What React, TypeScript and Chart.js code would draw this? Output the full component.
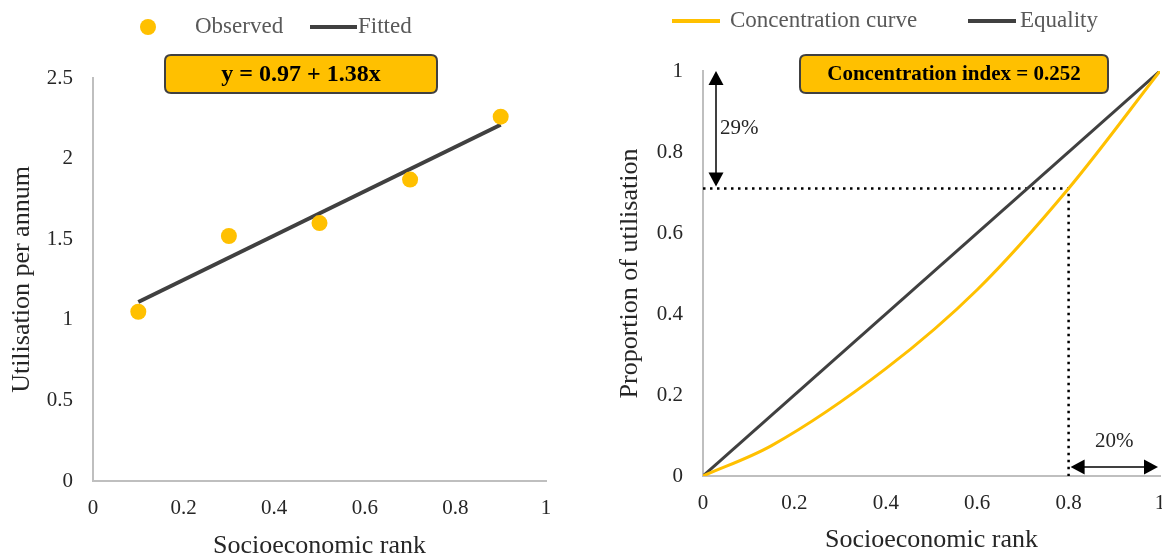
import React, { useEffect, useRef } from "react";
import { Chart, registerables } from "chart.js";

Chart.register(...registerables);

// ---------- Left panel data ----------
const RANK_OBS = [0.1, 0.3, 0.5, 0.7, 0.9];
const UTIL_OBS = [1.05, 1.52, 1.6, 1.87, 2.26];
const FIT_RANK = [0.1, 0.9];
const FIT_UTIL = [1.11, 2.21];
const EQUATION = "y = 0.97 + 1.38x";
const LEFT_SERIES = ["Observed", "Fitted"];

// ---------- Right panel data ----------
const CC_RANK = [0, 0.15, 0.4, 0.6, 0.8, 1];
const CC_SHARE = [0, 0.075, 0.265, 0.46, 0.71, 1];
const EQ_RANK = [0, 1];
const EQ_SHARE = [0, 1];
const GAP_RANK = 0.8;
const GAP_SHARE = 0.71;
const CI_LABEL = "Concentration index = 0.252";
const TOP_GAP_LABEL = "29%";
const RIGHT_GAP_LABEL = "20%";
const RIGHT_SERIES = ["Concentration curve", "Equality"];
const X_TITLE = "Socioeconomic rank";

const FONT = "'Liberation Serif', 'Times New Roman', Times, serif";
const YELLOW = "#FFC000";
const DARK = "#404040";
const AXIS = "#bfbfbf";
const TEXT = "#262626";
const LEGEND_TEXT = "#595959";

function roundRect(ctx: CanvasRenderingContext2D, x: number, y: number, w: number, h: number, r: number) {
  ctx.beginPath();
  ctx.moveTo(x + r, y);
  ctx.lineTo(x + w - r, y);
  ctx.quadraticCurveTo(x + w, y, x + w, y + r);
  ctx.lineTo(x + w, y + h - r);
  ctx.quadraticCurveTo(x + w, y + h, x + w - r, y + h);
  ctx.lineTo(x + r, y + h);
  ctx.quadraticCurveTo(x, y + h, x, y + h - r);
  ctx.lineTo(x, y + r);
  ctx.quadraticCurveTo(x, y, x + r, y);
  ctx.closePath();
}

function labelBox(ctx: CanvasRenderingContext2D, x: number, y: number, w: number, h: number, text: string, size: number) {
  roundRect(ctx, x, y, w, h, 6);
  ctx.fillStyle = YELLOW;
  ctx.fill();
  ctx.lineWidth = 2;
  ctx.strokeStyle = DARK;
  ctx.stroke();
  ctx.fillStyle = "#000";
  ctx.font = `bold ${size}px ${FONT}`;
  ctx.textAlign = "center";
  ctx.textBaseline = "middle";
  ctx.fillText(text, x + w / 2, y + h / 2 + 1);
}

function head(ctx: CanvasRenderingContext2D, tx: number, ty: number, dx: number, dy: number) {
  const len = 14;
  const half = 7.5;
  const bx = tx - dx * len;
  const by = ty - dy * len;
  ctx.beginPath();
  ctx.moveTo(tx, ty);
  ctx.lineTo(bx - dy * half, by + dx * half);
  ctx.lineTo(bx + dy * half, by - dx * half);
  ctx.closePath();
  ctx.fill();
}

function doubleArrow(ctx: CanvasRenderingContext2D, x1: number, y1: number, x2: number, y2: number) {
  const d = Math.hypot(x2 - x1, y2 - y1);
  const dx = (x2 - x1) / d;
  const dy = (y2 - y1) / d;
  ctx.strokeStyle = "#000";
  ctx.fillStyle = "#000";
  ctx.lineWidth = 1.5;
  ctx.beginPath();
  ctx.moveTo(x1 + dx * 10, y1 + dy * 10);
  ctx.lineTo(x2 - dx * 10, y2 - dy * 10);
  ctx.stroke();
  head(ctx, x2, y2, dx, dy);
  head(ctx, x1, y1, -dx, -dy);
}

function legendText(ctx: CanvasRenderingContext2D, text: string, x: number, y: number) {
  ctx.fillStyle = LEGEND_TEXT;
  ctx.font = `23px ${FONT}`;
  ctx.textAlign = "left";
  ctx.textBaseline = "middle";
  ctx.fillText(text, x, y);
}

const leftDeco = {
  id: "leftDeco",
  afterDraw(chart: any) {
    const ctx: CanvasRenderingContext2D = chart.ctx;
    ctx.save();
    // legend
    ctx.fillStyle = YELLOW;
    ctx.beginPath();
    ctx.arc(148, 27, 8, 0, Math.PI * 2);
    ctx.fill();
    legendText(ctx, LEFT_SERIES[0], 195, 27);
    ctx.strokeStyle = DARK;
    ctx.lineWidth = 4;
    ctx.beginPath();
    ctx.moveTo(310, 27);
    ctx.lineTo(357, 27);
    ctx.stroke();
    legendText(ctx, LEFT_SERIES[1], 358, 27);
    // equation box
    labelBox(ctx, 165, 55, 272, 38, EQUATION, 24);
    ctx.restore();
  },
};

const rightDeco = {
  id: "rightDeco",
  afterDraw(chart: any) {
    const ctx: CanvasRenderingContext2D = chart.ctx;
    const xs = chart.scales.x;
    const ys = chart.scales.y;
    const area = chart.chartArea;
    ctx.save();
    // legend
    ctx.lineWidth = 4;
    ctx.strokeStyle = YELLOW;
    ctx.beginPath();
    ctx.moveTo(87, 21);
    ctx.lineTo(135, 21);
    ctx.stroke();
    legendText(ctx, RIGHT_SERIES[0], 145, 21);
    ctx.strokeStyle = DARK;
    ctx.beginPath();
    ctx.moveTo(383, 21);
    ctx.lineTo(431, 21);
    ctx.stroke();
    legendText(ctx, RIGHT_SERIES[1], 435, 21);
    // index box
    labelBox(ctx, 215, 55, 308, 38, CI_LABEL, 21);
    // vertical arrow (share gap)
    const ax = area.left + 13;
    doubleArrow(ctx, ax, ys.getPixelForValue(1), ax, ys.getPixelForValue(GAP_SHARE) - 2);
    ctx.fillStyle = TEXT;
    ctx.font = `21px ${FONT}`;
    ctx.textAlign = "left";
    ctx.textBaseline = "middle";
    ctx.fillText(TOP_GAP_LABEL, ax + 4, ys.getPixelForValue((1 + GAP_SHARE) / 2) - 1);
    // horizontal arrow (rank gap)
    const ay = area.bottom - 9;
    doubleArrow(ctx, xs.getPixelForValue(GAP_RANK) + 2, ay, xs.getPixelForValue(1) - 2, ay);
    ctx.fillStyle = TEXT;
    ctx.textAlign = "center";
    ctx.fillText(RIGHT_GAP_LABEL, xs.getPixelForValue((1 + GAP_RANK) / 2), ay - 26);
    ctx.restore();
  },
};

const fmt = (v: any) => String(Math.round(Number(v) * 100) / 100);

function axisX(height: number, titlePadBottom: number) {
  return {
    type: "linear" as const,
    min: 0,
    max: 1,
    ticks: { stepSize: 0.2, font: { family: FONT, size: 21 }, color: TEXT, padding: 15, callback: fmt },
    grid: { display: false, drawTicks: false },
    border: { display: true, color: AXIS, width: 2 },
    title: {
      display: true,
      text: X_TITLE,
      color: TEXT,
      font: { family: FONT, size: 26, lineHeight: 1 },
      padding: { top: 0, bottom: titlePadBottom },
    },
    afterFit: (s: any) => {
      s.height = height;
      s.paddingLeft = 0;
      s.paddingRight = 0;
    },
  };
}

function axisY(max: number, step: number, title: string, width: number, titlePadTop: number) {
  return {
    type: "linear" as const,
    min: 0,
    max,
    ticks: { stepSize: step, font: { family: FONT, size: 21 }, color: TEXT, padding: 20, callback: fmt },
    grid: { display: false, drawTicks: false },
    border: { display: true, color: AXIS, width: 2 },
    title: {
      display: true,
      text: title,
      color: TEXT,
      font: { family: FONT, size: 26, lineHeight: 1 },
      padding: { top: titlePadTop, bottom: 0 },
    },
    afterFit: (s: any) => {
      s.width = width;
      s.paddingTop = 0;
      s.paddingBottom = 0;
    },
  };
}

export default function App() {
  const leftRef = useRef<HTMLCanvasElement>(null);
  const rightRef = useRef<HTMLCanvasElement>(null);

  useEffect(() => {
    const left = new Chart(leftRef.current!, {
      type: "scatter",
      data: {
        datasets: [
          {
            label: LEFT_SERIES[1],
            data: FIT_RANK.map((x, i) => ({ x, y: FIT_UTIL[i] })),
            showLine: true,
            borderColor: DARK,
            borderWidth: 4,
            pointRadius: 0,
            order: 2,
          },
          {
            label: LEFT_SERIES[0],
            data: RANK_OBS.map((x, i) => ({ x, y: UTIL_OBS[i] })),
            backgroundColor: YELLOW,
            borderWidth: 0,
            pointRadius: 8,
            order: 1,
          },
        ],
      },
      options: {
        responsive: false,
        animation: false,
        events: [],
        layout: { padding: { top: 78, right: 29, left: 0, bottom: 0 } },
        plugins: { legend: { display: false }, tooltip: { enabled: false } },
        scales: {
          x: axisX(75, -3),
          y: axisY(2.5, 0.5, "Utilisation per annum", 93, 9),
        },
      },
      plugins: [leftDeco],
    });

    const right = new Chart(rightRef.current!, {
      type: "scatter",
      data: {
        datasets: [
          {
            label: "gap",
            data: [
              { x: 0, y: GAP_SHARE },
              { x: GAP_RANK, y: GAP_SHARE },
              { x: GAP_RANK, y: 0 },
            ],
            showLine: true,
            borderColor: "#000",
            borderWidth: 2.5,
            borderDash: [2.5, 4.5],
            pointRadius: 0,
            order: 3,
          },
          {
            label: RIGHT_SERIES[1],
            data: EQ_RANK.map((x, i) => ({ x, y: EQ_SHARE[i] })),
            showLine: true,
            borderColor: DARK,
            borderWidth: 3,
            pointRadius: 0,
            order: 2,
          },
          {
            label: RIGHT_SERIES[0],
            data: CC_RANK.map((x, i) => ({ x, y: CC_SHARE[i] })),
            showLine: true,
            borderColor: YELLOW,
            borderWidth: 3,
            pointRadius: 0,
            cubicInterpolationMode: "monotone",
            order: 1,
          },
        ],
      },
      options: {
        responsive: false,
        animation: false,
        events: [],
        layout: { padding: { top: 71, right: 10, left: 0, bottom: 0 } },
        plugins: { legend: { display: false }, tooltip: { enabled: false } },
        scales: {
          x: axisX(80, 3),
          y: axisY(1, 0.2, "Proportion of utilisation", 118, 32),
        },
      },
      plugins: [rightDeco],
    });

    return () => {
      left.destroy();
      right.destroy();
    };
  }, []);

  return (
    <div
      style={{
        position: "absolute",
        left: 0,
        top: 0,
        width: 1162,
        height: 556,
        overflow: "hidden",
        background: "#fff",
      }}
    >
      <canvas
        ref={leftRef}
        width={575}
        height={556}
        style={{ position: "absolute", left: 0, top: 0, width: 575, height: 556 }}
      />
      <canvas
        ref={rightRef}
        width={585}
        height={556}
        style={{ position: "absolute", left: 585, top: 0, width: 585, height: 556 }}
      />
    </div>
  );
}
